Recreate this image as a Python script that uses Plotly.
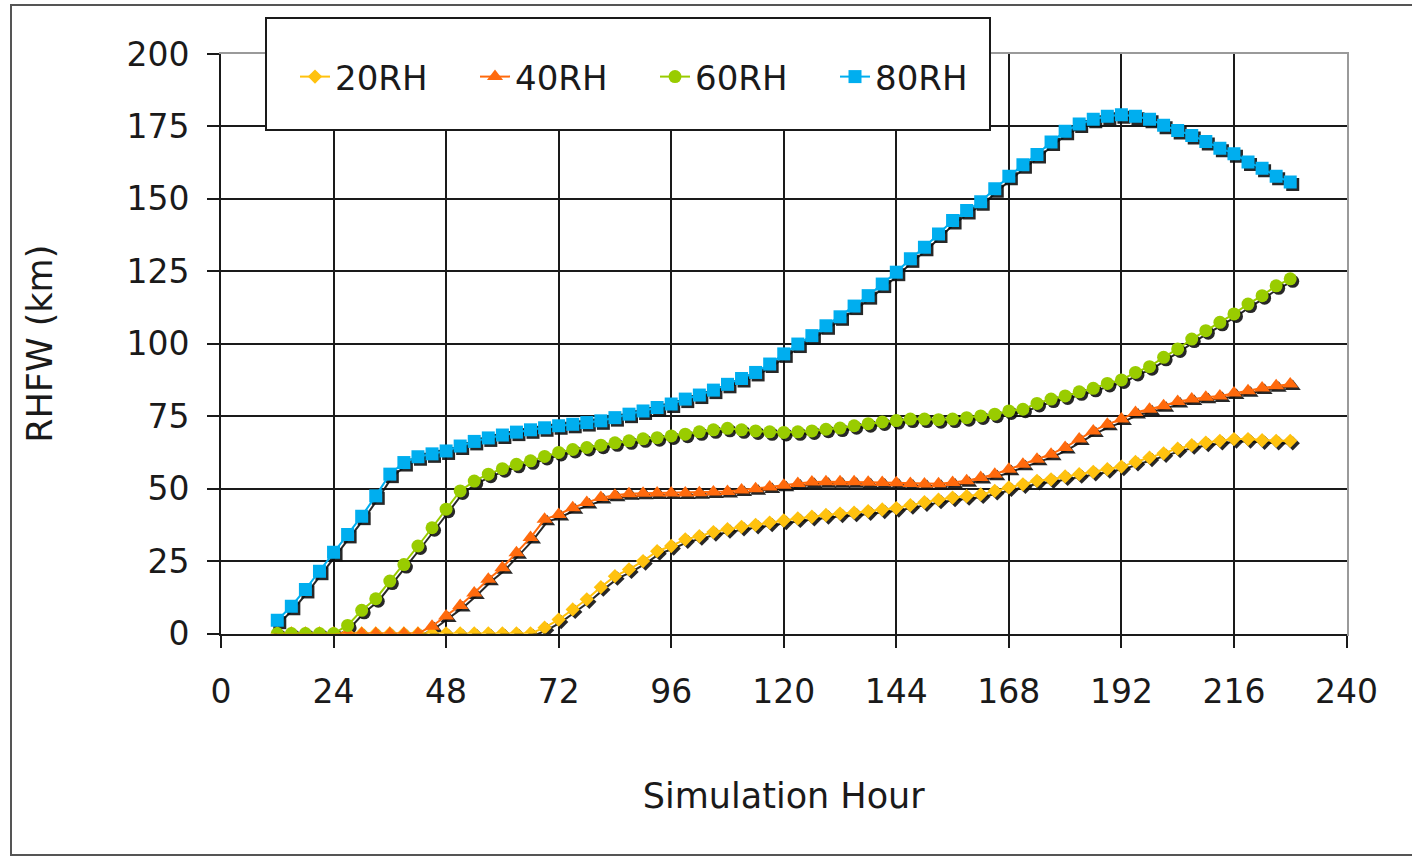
import plotly.graph_objects as go

hours = list(range(12, 229, 3))

rh20 = [0, 0, 0, 0, 0, 0, 0, 0, 0, 0, 0, 0, 0, 0, 0, 0, 0, 0, 0,
        2, 4.8, 8.3, 11.8, 16, 19.8, 22.1, 25, 28.4, 30.2, 32.5, 33.6, 35, 36,
        36.8, 37.5, 38.3, 39, 39.7, 40.3, 40.9, 41.4, 41.7, 42.2, 42.8, 43.3,
        44.3, 45.3, 46.2, 46.9, 47.4, 48, 49.2, 50.4, 51.5, 52.7, 53.2, 54.2,
        55, 55.8, 56.7, 57.6, 59.2, 60.7, 62.2, 63.8, 65, 65.9, 66.5, 67.1,
        67.1, 66.7, 66.5, 66.5]

rh40 = [0, 0, 0, 0, 0, 0, 0, 0, 0, 0, 0,
        2.5, 6, 9.7, 14, 18.7, 22.7, 27.9, 33.1, 39.4, 41.1, 43.4, 45.2, 46.9,
        47.7, 48.2, 48.4, 48.5, 48.5, 48.5, 48.6, 48.8, 49, 49.5, 50, 50.6,
        51.2, 51.8, 52.3, 52.4, 52.4, 52.4, 52.2, 52.1, 52, 51.8, 51.6, 51.7,
        52.1, 52.7, 53.8, 55, 56.7, 58.4, 60.1, 61.9, 64.2, 67.1, 69.9, 72.2,
        74, 76.3, 77.4, 78.6, 80.1, 80.9, 81.5, 82, 83, 83.8, 84.7, 85.5, 86.1]

rh60 = [0, 0, 0, 0, 0,
        2.8, 8, 12, 18.1, 23.8, 30.2, 36.5, 42.9, 49.2, 52.6, 55, 56.9, 58.4,
        59.6, 61.1, 62.5, 63.5, 64.2, 65, 65.8, 66.5, 67.2, 67.6, 68.2, 68.8,
        69.6, 70.3, 70.8, 70.3, 69.9, 69.6, 69.4, 69.6, 69.9, 70.5, 70.9, 71.7,
        72.4, 73, 73.5, 74, 74, 73.8, 74, 74.5, 75.1, 75.7, 76.8, 77.4, 79.4,
        80.9, 82, 83.4, 84.6, 86.3, 87.5, 90.1, 92.1, 95.3, 98.2, 101.6, 104.5,
        107.4, 110.3, 113.7, 116.6, 120, 122.4]

rh80 = [4.6, 9.4, 15.2, 21.5, 28, 34.2, 40.5, 47.5, 55, 59, 61, 62, 63,
        64.7, 66.3, 67.5, 68.5, 69.5, 70.3, 71, 71.7, 72.2, 72.8, 73.4, 74.5,
        75.7, 76.8, 78, 79.2, 80.9, 82.3, 84, 86, 88, 90.1, 93, 96.5, 99.9,
        102.8, 106.2, 109.3, 113, 116.6, 120.6, 124.7, 129.3, 133.3, 137.9,
        142.5, 146, 149, 153.5, 157.8, 161.8, 165.3, 169.6, 173.3, 175.8,
        177.5, 178.5, 179, 178.5, 177.5, 175.4, 173.6, 171.9, 169.8, 167.5,
        165.6, 162.7, 160.6, 157.8, 155.8]

series_names = ["20RH", "40RH", "60RH", "80RH"]
series_values = [rh20, rh40, rh60, rh80]
colors = ["#FFC20E", "#FF6A0D", "#99CC00", "#00AEEF"]
symbols = ["diamond", "triangle-up", "circle", "square"]
sizes = [11, 14, 13, 13]

x_ticks = list(range(0, 241, 24))
y_ticks = list(range(0, 201, 25))

FONT = "DejaVu Sans"
W, H = 1412, 856
ML, MR, MT, MB = 221, 63, 54, 220
PW = W - ML - MR
PH = H - MT - MB
OFF = 2.5  # shadow offset in px

fig = go.Figure()

# empty trace so the gridded background axes are drawn
fig.add_trace(go.Scatter(x=[], y=[], showlegend=False, hoverinfo="skip",
                         xaxis="x", yaxis="y"))

# shadows
for name, vals, sym, sz in zip(series_names, series_values, symbols, sizes):
    fig.add_trace(go.Scatter(
        x=hours, y=vals, mode="lines+markers", showlegend=False, hoverinfo="skip",
        line=dict(color="rgba(15,15,15,0.9)", width=2),
        marker=dict(symbol=sym, size=sz, color="rgba(15,15,15,0.9)", line=dict(width=0)),
        xaxis="x2", yaxis="y2"))

# main series
for name, vals, col, sym, sz in zip(series_names, series_values, colors, symbols, sizes):
    fig.add_trace(go.Scatter(
        x=hours, y=vals, name=name, mode="lines+markers",
        line=dict(color=col, width=2),
        marker=dict(symbol=sym, size=sz, color=col, line=dict(width=0)),
        xaxis="x3", yaxis="y3"))

dx = OFF / PW
dy = OFF / PH

tick_font = dict(family=FONT, size=33, color="#1a1a1a")
title_font = dict(family=FONT, size=35, color="#1a1a1a")

fig.update_layout(
    width=W, height=H,
    margin=dict(l=ML, r=MR, t=MT, b=MB),
    paper_bgcolor="white",
    plot_bgcolor="rgba(0,0,0,0)",
    font=dict(family=FONT, size=33, color="#1a1a1a"),
    # background grid axes (gray plot-area border via mirrored lines)
    xaxis=dict(
        domain=[0, 1 - dx], range=[0, 240], anchor="y",
        tickvals=x_ticks[1:-1], showticklabels=False, ticks="",
        showgrid=True, gridcolor="#1a1a1a", gridwidth=2,
        showline=True, mirror=True, linecolor="#9a9a9a", linewidth=2,
        zeroline=False,
    ),
    yaxis=dict(
        domain=[dy, 1], range=[0, 200], anchor="x",
        tickvals=y_ticks[1:-1], showticklabels=False, ticks="",
        showgrid=True, gridcolor="#1a1a1a", gridwidth=2,
        showline=True, mirror=True, linecolor="#9a9a9a", linewidth=2,
        zeroline=False,
    ),
    # shadow axes
    xaxis2=dict(domain=[dx, 1], range=[0, 240], anchor="y2", visible=False),
    yaxis2=dict(domain=[0, 1 - dy], range=[0, 200], anchor="x2", visible=False),
    # main axes (labels, ticks, black axis lines)
    xaxis3=dict(
        domain=[0, 1 - dx], range=[0, 240], anchor="y3",
        tickvals=x_ticks, ticktext=[str(v) for v in x_ticks],
        showgrid=False, zeroline=False,
        showline=True, linecolor="#1a1a1a", linewidth=2,
        ticks="outside", ticklen=12, tickwidth=2, tickcolor="#1a1a1a",
        tickfont=tick_font, ticklabelstandoff=16, layer="below traces",
        title=dict(text="Simulation Hour", font=title_font, standoff=73),
    ),
    yaxis3=dict(
        domain=[dy, 1], range=[0, 200], anchor="x3",
        tickvals=y_ticks, ticktext=[str(v) for v in y_ticks],
        showgrid=False, zeroline=False,
        showline=True, linecolor="#1a1a1a", linewidth=2,
        ticks="outside", ticklen=12, tickwidth=2, tickcolor="#1a1a1a",
        tickfont=tick_font, ticklabelstandoff=11, layer="below traces",
        title=dict(text="RHFW (km)", font=title_font, standoff=63),
    ),
    legend=dict(
        orientation="h", x=(295 - ML) / PW, xanchor="left",
        y=(H - MB - 77) / PH, yanchor="middle",
        bgcolor="rgba(0,0,0,0)", borderwidth=0,
        font=dict(family=FONT, size=34, color="#1a1a1a"),
        entrywidth=135, entrywidthmode="pixels",
        itemwidth=30,
    ),
    showlegend=True,
)

def px_x(p):
    return (p - ML) / PW

def px_y(p):
    return (H - MB - p) / PH

shapes = [
    dict(type="rect", xref="paper", yref="paper",
         x0=px_x(266), x1=px_x(990), y0=px_y(130), y1=px_y(18),
         line=dict(color="#1a1a1a", width=2), fillcolor="white", layer="above"),
    dict(type="rect", xref="paper", yref="paper",
         x0=px_x(11), x1=px_x(1430), y0=px_y(855), y1=px_y(5),
         line=dict(color="#555555", width=2), fillcolor="rgba(0,0,0,0)", layer="above"),
]
fig.update_layout(shapes=shapes)

fig.write_html("out.html", config={"displayModeBar": False},
               post_script="document.body.style.margin='0';document.body.style.padding='0';")
